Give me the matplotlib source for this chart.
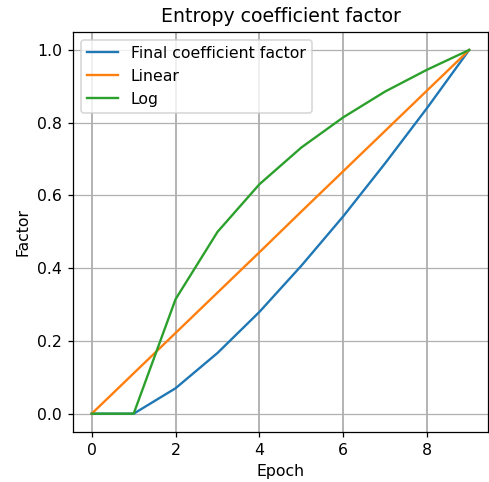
import matplotlib
matplotlib.use("Agg")
import matplotlib.pyplot as plt

epochs = [0, 1, 2, 3, 4, 5, 6, 7, 8, 9]
final_factor = [0.0, 0.0, 0.070, 0.167, 0.280, 0.407, 0.543, 0.689, 0.841, 1.0]
linear = [0.0, 0.111, 0.222, 0.333, 0.444, 0.556, 0.667, 0.778, 0.889, 1.0]
log_factor = [0.0, 0.0, 0.315, 0.500, 0.631, 0.732, 0.815, 0.886, 0.946, 1.0]

dpi = 113
fig = plt.figure(figsize=(489 / dpi, 482 / dpi), dpi=dpi)
ax = fig.add_axes([0.149, 0.104, 0.849, 0.830])

ax.plot(epochs, final_factor, label="Final coefficient factor")
ax.plot(epochs, linear, label="Linear")
ax.plot(epochs, log_factor, label="Log")

ax.grid(axis="y", color="#b0b0b0", linewidth=0.8)
ax.grid(axis="x", color="#aaaaaa", linewidth=1.1)
ax.set_xlabel("Epoch")
ax.set_ylabel("Factor")
ax.set_title("Entropy coefficient factor")
ax.legend(loc="upper left")

fig.savefig("out.png", dpi=dpi)
